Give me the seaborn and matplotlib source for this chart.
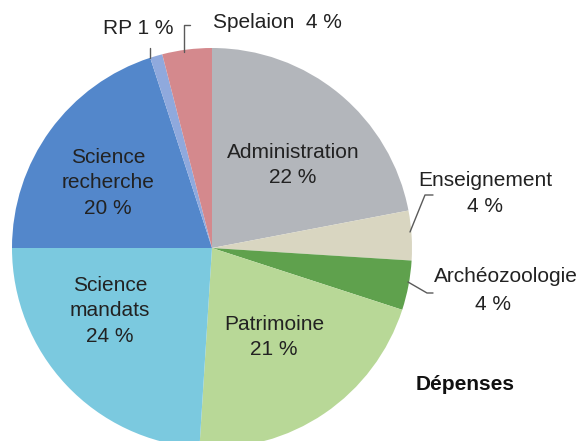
import matplotlib
matplotlib.use("Agg")
import matplotlib.pyplot as plt
import seaborn as sns

categories = ["Administration", "Enseignement", "Archéozoologie", "Patrimoine",
              "Science\nmandats", "Science\nrecherche", "RP", "Spelaion"]
values = [22, 4, 4, 21, 24, 20, 1, 4]
colors = ["#b3b6bb", "#d9d6c1", "#5fa14d", "#b8d897", "#7bc9df", "#5387cb", "#8fa9dd", "#d4898d"]

sns.set_theme(style="white")
plt.rcParams['font.family'] = ['Liberation Sans', 'DejaVu Sans']

fig = plt.figure(figsize=(5.84, 4.41), dpi=100)
# pie centre at (212,248) px, radius 200 px
cx, cy, r = 212 / 584, 1 - 248 / 441, 200
ax = fig.add_axes([cx - r / 584, cy - r / 441, 2 * r / 584, 2 * r / 441])
wedges, _ = ax.pie(values, colors=colors, startangle=90, counterclock=False,
                   radius=1, wedgeprops=dict(linewidth=0))
for w in wedges:
    w.set_clip_on(False)
ax.set_xlim(-1, 1)
ax.set_ylim(-1, 1)
ax.set_aspect("equal")
ax.axis("off")

tc = "#222222"
fs = 15
ls = 1.45
inner = {0: (0.405, 0.415), 3: (0.31, -0.445), 4: (-0.51, -0.315), 5: (-0.52, 0.325)}
for i, (x, y) in inner.items():
    ax.text(x, y, f"{categories[i]}\n{values[i]} %", ha="center", va="center",
            fontsize=fs, color=tc, linespacing=ls)

# Enseignement
ax.text(1.365, 0.335, categories[1], ha="center", va="center", fontsize=fs,
        color=tc, clip_on=False)
ax.text(1.365, 0.205, f"{values[1]} %", ha="center", va="center", fontsize=fs,
        color=tc, clip_on=False)
# Archéozoologie
ax.text(1.47, -0.14, categories[2], ha="center", va="center", fontsize=fs,
        color=tc, clip_on=False)
ax.text(1.405, -0.28, f"{values[2]} %", ha="center", va="center", fontsize=fs,
        color=tc, clip_on=False)

ax.text(-0.37, 1.1, f"{categories[6]} {values[6]} %", ha="center", va="center",
        fontsize=fs, color=tc, clip_on=False)
ax.text(0.325, 1.13, f"{categories[7]}  {values[7]} %", ha="center", va="center",
        fontsize=fs, color=tc, clip_on=False)

lc = "#5a5a5a"
lines = [
    ([-0.31, -0.31], [0.95, 1.0]),
    ([-0.14, -0.14, -0.11], [0.98, 1.115, 1.115]),
    ([0.99, 1.065, 1.105], [0.08, 0.265, 0.265]),
    ([0.98, 1.075, 1.105], [-0.17, -0.225, -0.225]),
]
for xs, ys in lines:
    ax.plot(xs, ys, color=lc, lw=1, clip_on=False)

ax.text(1.2675, -0.68, "Dépenses", ha="center", va="center", fontsize=fs,
        fontweight="bold", color="#111111", clip_on=False)

fig.savefig("out.png", dpi=100)
